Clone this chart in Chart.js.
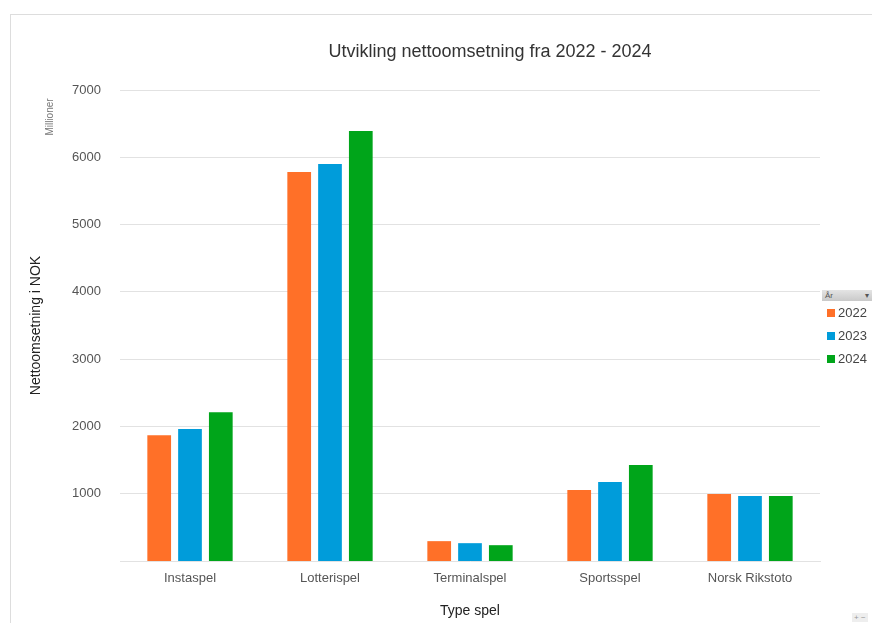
<!DOCTYPE html>
<html>
<head>
<meta charset="utf-8">
<script src="https://cdn.jsdelivr.net/npm/chart.js@4.4.1/dist/chart.umd.min.js"></script>
<style>
    body { margin: 0; background: #fff; font-family: "Liberation Sans", Arial, sans-serif; }
    #wrap { position: relative; width: 872px; height: 623px; overflow: hidden; }
    #frame { position: absolute; left: 10px; top: 14px; right: -5px; bottom: -5px; border-top: 1px solid #ddd; border-left: 1px solid #ddd; }
    #chart { position: absolute; left: 0; top: 0; }
    #legend { position: absolute; left: 822px; top: 290px; width: 50px; font-size: 13px; color: #444; }
    #legend .head { height: 11px; background: linear-gradient(#e4e4e4, #c9c9c9); font-size: 8px; color: #555; padding-left: 3px; line-height: 11px; position: relative; }
    #legend .head span { position: absolute; right: 3px; top: 0; }
    #legend .item { height: 23px; line-height: 23px; white-space: nowrap; }
    #legend .sw { display: inline-block; width: 8px; height: 8px; margin: 0 3px 0 5px; }
    #zoomBtns { position: absolute; left: 852px; top: 613px; font-size: 8px; color: #999; background: #eee; padding: 0 2px; }
</style>
</head>
<body>
<div id="wrap">
    <div id="frame"></div>
    <canvas id="chart" width="872" height="623"></canvas>
    <div id="legend"></div>
    <div id="zoomBtns">+ −</div>
</div>
<script>
const categories = ['Instaspel', 'Lotterispel', 'Terminalspel', 'Sportsspel', 'Norsk Rikstoto'];
const years = ['2022', '2023', '2024'];
const values2022 = [1870, 5780, 295, 1055, 995];
const values2023 = [1960, 5900, 265, 1175, 965];
const values2024 = [2210, 6390, 235, 1425, 965];
const yTicks = [1000, 2000, 3000, 4000, 5000, 6000, 7000];
const colors = ['#ff7028', '#009cda', '#00a51a'];

const series = [values2022, values2023, values2024];

// title and "Millioner" drawn on the canvas at fixed spots
const extraText = {
    id: 'extraText',
    afterDraw(chart) {
        const ctx = chart.ctx;
        ctx.save();
        ctx.fillStyle = '#333';
        ctx.font = '18px "Liberation Sans", Arial, sans-serif';
        ctx.textAlign = 'center';
        ctx.textBaseline = 'middle';
        ctx.fillText('Utvikling nettoomsetning fra 2022 - 2024', 490, 52);
        ctx.fillStyle = '#777';
        ctx.font = '10px "Liberation Sans", Arial, sans-serif';
        ctx.translate(50, 117);
        ctx.rotate(-Math.PI / 2);
        ctx.fillText('Millioner', 0, 0);
        ctx.restore();
    }
};

new Chart(document.getElementById('chart'), {
    type: 'bar',
    data: {
        labels: categories,
        datasets: years.map((y, i) => ({
            label: y,
            data: series[i],
            backgroundColor: colors[i],
            categoryPercentage: 0.66,
            barPercentage: 0.77
        }))
    },
    options: {
        responsive: false,
        animation: false,
        layout: { padding: { left: 20, right: 52, top: 90, bottom: 0 } },
        plugins: {
            legend: { display: false },
            tooltip: { enabled: false }
        },
        scales: {
            x: {
                grid: { display: false, drawTicks: false },
                border: { color: '#e2e2e2' },
                ticks: { color: '#555', font: { size: 13 }, padding: 10 },
                title: { display: true, text: 'Type spel', color: '#222', font: { size: 14 }, padding: { top: 10, bottom: 3 } },
                afterFit(scale) { scale.height = 62; }
            },
            y: {
                min: 0,
                max: 7000,
                afterBuildTicks(scale) { scale.ticks = yTicks.map(v => ({ value: v })); },
                grid: { color: '#e2e2e2', drawTicks: false },
                border: { display: false },
                ticks: { color: '#555', font: { size: 13 }, padding: 19, callback: v => String(v) },
                title: { display: true, text: 'Nettoomsetning i NOK', color: '#222', font: { size: 14 }, padding: { top: 8, bottom: 0 } },
                afterFit(scale) { scale.width = 100; }
            }
        }
    },
    plugins: [extraText]
});

const legend = document.getElementById('legend');
let html = '<div class="head">År<span>▾</span></div>';
years.forEach((y, i) => {
    html += '<div class="item"><span class="sw" style="background:' + colors[i] + '"></span>' + y + '</div>';
});
legend.innerHTML = html;
</script>
</body>
</html>
